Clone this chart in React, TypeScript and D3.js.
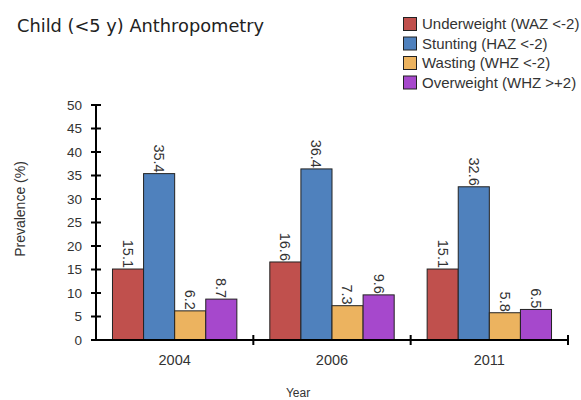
import React from "react";
import * as d3 from "d3";

const years = ["2004", "2006", "2011"];
const seriesNames = ["Underweight (WAZ <-2)", "Stunting (HAZ <-2)", "Wasting (WHZ <-2)", "Overweight (WHZ >+2)"];
const underweight = [15.1, 16.6, 15.1];
const stunting = [35.4, 36.4, 32.6];
const wasting = [6.2, 7.3, 5.8];
const overweight = [8.7, 9.6, 6.5];
const yTicks = [0, 5, 10, 15, 20, 25, 30, 35, 40, 45, 50];
const colors = ["#c0504d", "#4f81bd", "#ecb35f", "#a648cc"];

export default function App() {
  const W = 581, H = 400;
  const left = 96, right = 568, top = 105, bottom = 340;
  const series = [underweight, stunting, wasting, overweight];
  const x0 = d3.scaleBand<string>().domain(years).range([left, right]).paddingInner(0).paddingOuter(0);
  const x1 = d3.scaleBand<number>().domain([0, 1, 2, 3]).range([0, x0.bandwidth()]).paddingInner(0).paddingOuter(0.53);
  const y = d3.scaleLinear().domain([0, 50]).range([bottom, top]);
  const font = "Arial, 'Liberation Sans', sans-serif";
  const tc = "#333";
  return (
    <svg width={W} height={H} style={{ position: "absolute", left: 0, top: 0, background: "#fff" }}>
      <text x={17} y={32} fontFamily="Verdana, 'DejaVu Sans', sans-serif" fontSize={17.8} fill="#222">Child (&lt;5 y) Anthropometry</text>
      {seriesNames.map((n, i) => (
        <g key={n}>
          <rect x={403.5} y={17.5 + i * 19.5} width={13} height={13} fill={colors[i]} stroke="#222" strokeWidth={1} />
          <text x={422} y={29 + i * 19.5} fontFamily={font} fontSize={15} fill={tc}>{n}</text>
        </g>
      ))}
      {years.map((yr, gi) => (
        <g key={yr}>
          {series.map((s, si) => {
            const bx = (x0(yr) as number) + (x1(si) as number);
            const bw = x1.bandwidth();
            const by = y(s[gi]);
            return (
              <g key={si}>
                <rect x={bx} y={by} width={bw} height={bottom - by} fill={colors[si]} stroke="#222" strokeWidth={1} />
                <text transform={`translate(${bx + bw / 2},${by - 1}) rotate(90)`} textAnchor="end" dy="0.35em" fontFamily={font} fontSize={14.5} fill={tc}>{s[gi].toFixed(1)}</text>
              </g>
            );
          })}
        </g>
      ))}
      <line x1={left} x2={left} y1={top} y2={bottom} stroke="#000" strokeWidth={2} />
      <line x1={left} x2={right} y1={bottom} y2={bottom} stroke="#000" strokeWidth={2} />
      {yTicks.map((t) => (
        <g key={t}>
          <line x1={left - 5} x2={left + 5} y1={y(t)} y2={y(t)} stroke="#000" strokeWidth={2} />
          <text x={82} y={y(t)} dy="0.35em" textAnchor="end" fontFamily={font} fontSize={13.5} fill={tc}>{t}</text>
        </g>
      ))}
      {years.map((yr) => (
        <g key={yr}>
          <line x1={(x0(yr) as number) + x0.bandwidth()} x2={(x0(yr) as number) + x0.bandwidth()} y1={bottom - 5} y2={bottom + 5} stroke="#000" strokeWidth={2} />
          <text x={(x0(yr) as number) + x0.bandwidth() / 2} y={365} textAnchor="middle" fontFamily={font} fontSize={14.5} fill={tc}>{yr}</text>
        </g>
      ))}
      <text x={298} y={397} textAnchor="middle" fontFamily={font} fontSize={12} fill={tc}>Year</text>
      <text transform="translate(25,209) rotate(-90)" textAnchor="middle" fontFamily={font} fontSize={14} fill={tc}>Prevalence (%)</text>
    </svg>
  );
}
